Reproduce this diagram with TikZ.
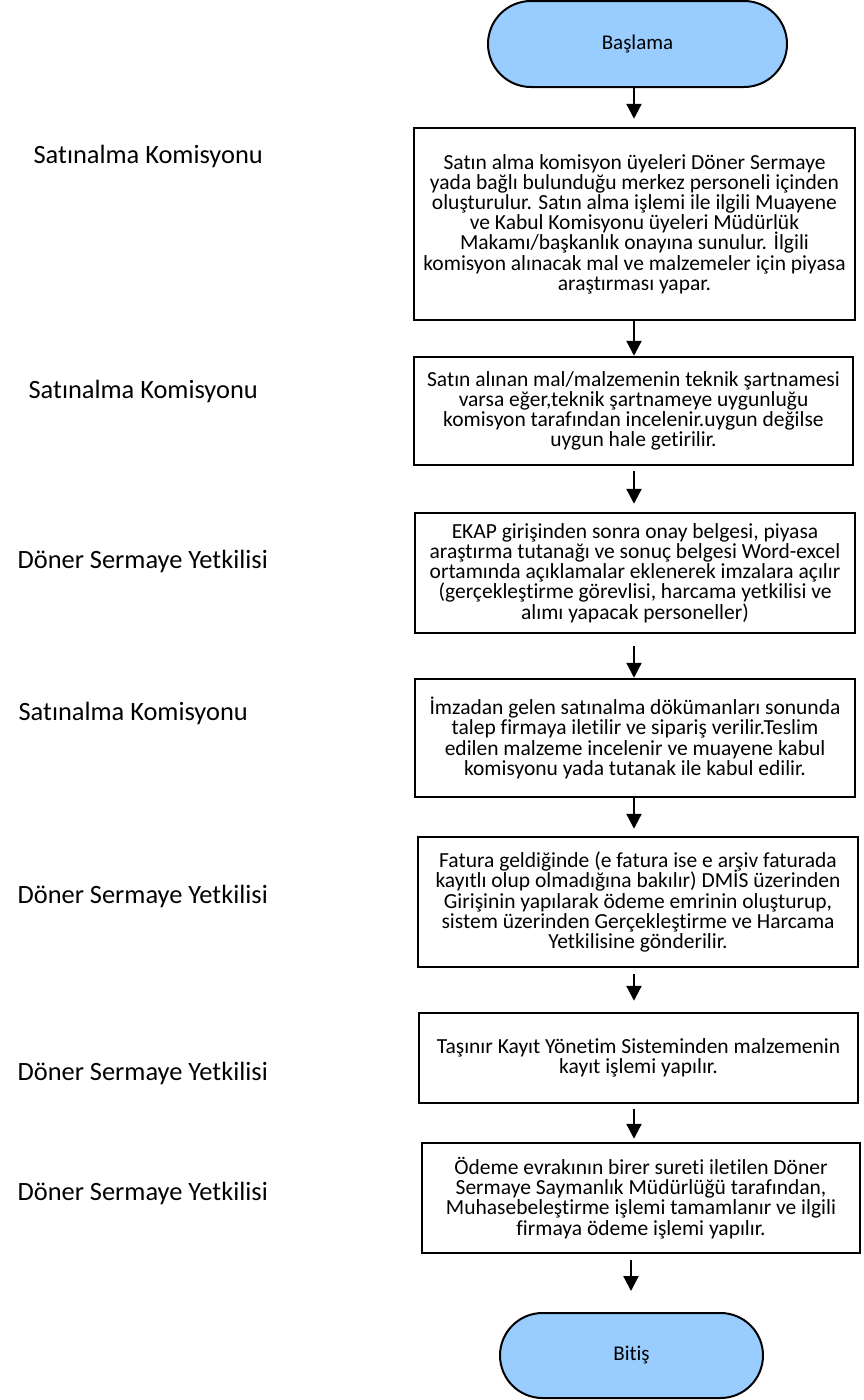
\documentclass[tikz,border=0pt]{standalone}
\usepackage{fontspec}
\setmainfont{Carlito}[Ligatures={NoCommon,TeX}]
\usetikzlibrary{shapes.misc,arrows.meta}
\definecolor{termblue}{RGB}{153,204,255}
% tight line spacing inside the process boxes
\newcommand\stepfont{\fontsize{21.5}{20.2}\selectfont\lineskiplimit=-20pt\relax}
\begin{document}
\begin{tikzpicture}[x=1pt,y=-1pt,
  stepbox/.style={draw=black,line width=2.5pt,align=center,inner sep=0pt,
    font=\stepfont},
  terminal/.style={rounded rectangle,draw=black,fill=termblue,line width=2pt,
    inner sep=0pt,font=\fontsize{21}{24}\selectfont},
  role/.style={anchor=base east,inner sep=0pt,font=\fontsize{26.4}{30}\selectfont},
  flow/.style={-{Triangle[width=15pt,length=15pt]},line width=2.3pt}]
\useasboundingbox (0,0) rectangle (863,1400);

% process column
\node[terminal,minimum width=299pt,minimum height=86pt] (start) at (637.5,44) {Başlama};

\node[stepbox,minimum width=441pt,minimum height=192pt] (b1) at (634.5,224) {%
Satın alma komisyon üyeleri Döner Sermaye\\
yada bağlı bulunduğu merkez personeli içinden\\
oluşturulur. Satın alma işlemi ile ilgili Muayene\\
ve Kabul Komisyonu üyeleri Müdürlük\\
Makamı/başkanlık onayına sunulur. İlgili\\
komisyon alınacak mal ve malzemeler için piyasa\\
araştırması yapar.};

\node[stepbox,minimum width=439pt,minimum height=108pt] (b2) at (633.5,411) {%
Satın alınan mal/malzemenin teknik şartnamesi\\
varsa eğer,teknik şartnameye uygunluğu\\
komisyon tarafından incelenir.uygun değilse\\
uygun hale getirilir.};

\node[stepbox,minimum width=440pt,minimum height=120pt] (b3) at (635,573) {%
EKAP girişinden sonra onay belgesi, piyasa\\
araştırma tutanağı ve sonuç belgesi Word-excel\\
ortamında açıklamalar eklenerek imzalara açılır\\
(gerçekleştirme görevlisi, harcama yetkilisi ve\\
alımı yapacak personeller)};

\node[stepbox,minimum width=440pt,minimum height=118pt] (b4) at (635,738) {%
İmzadan gelen satınalma dökümanları sonunda\\
talep firmaya iletilir ve sipariş verilir.Teslim\\
edilen malzeme incelenir ve muayene kabul\\
komisyonu yada tutanak ile kabul edilir.};

\node[stepbox,minimum width=440pt,minimum height=130pt] (b5) at (638,902) {%
Fatura geldiğinde (e fatura ise e arşiv faturada\\
kayıtlı olup olmadığına bakılır) DMİS üzerinden\\
Girişinin yapılarak ödeme emrinin oluşturup,\\
sistem üzerinden Gerçekleştirme ve Harcama\\
Yetkilisine gönderilir.};

\node[stepbox,minimum width=439pt,minimum height=90pt] (b6) at (638.5,1058) {%
Taşınır Kayıt Yönetim Sisteminden malzemenin\\
kayıt işlemi yapılır.};

\node[stepbox,minimum width=438pt,minimum height=110pt] (b7) at (641,1198) {%
Ödeme evrakının birer sureti iletilen Döner\\
Sermaye Saymanlık Müdürlüğü tarafından,\\
Muhasebeleştirme işlemi tamamlanır ve ilgili\\
firmaya ödeme işlemi yapılır.};

\node[terminal,minimum width=263pt,minimum height=85pt] (end) at (631.5,1355.5) {Bitiş};

% connectors
\coordinate (ax) at (634,0);
\coordinate (ex) at (631,0);
\draw[flow,shorten >=8pt] (start.south -| ax) -- (b1.north -| ax);
\draw[flow] (b1.south -| ax) -- (b2.north -| ax);
\draw[flow,shorten <=5pt,shorten >=8pt] (b2.south -| ax) -- (b3.north -| ax);
\draw[flow,shorten <=12pt] (b3.south -| ax) -- (b4.north -| ax);
\draw[flow,shorten >=7pt] (b4.south -| ax) -- (b5.north -| ax);
\draw[flow,shorten <=6pt,shorten >=11pt] (b5.south -| ax) -- (b6.north -| ax);
\draw[flow,shorten <=5pt,shorten >=3pt] (b6.south -| ax) -- (b7.north -| ax);
\draw[flow,shorten <=6pt,shorten >=21pt] (b7.south -| ex) -- (end.north -| ex);

% responsible units
\node[role] (r1) at (263,163) {Satınalma Komisyonu};
\node[role] (r2) at (258,398) {Satınalma Komisyonu};
\node[role] (r3) at (268,568) {Döner Sermaye Yetkilisi};
\node[role] (r4) at (248,720) {Satınalma Komisyonu};
\node[role] (r5) at (268,903) {Döner Sermaye Yetkilisi};
\node[role] (r6) at (268,1080) {Döner Sermaye Yetkilisi};
\node[role] (r7) at (268,1200) {Döner Sermaye Yetkilisi};
\end{tikzpicture}
\end{document}
